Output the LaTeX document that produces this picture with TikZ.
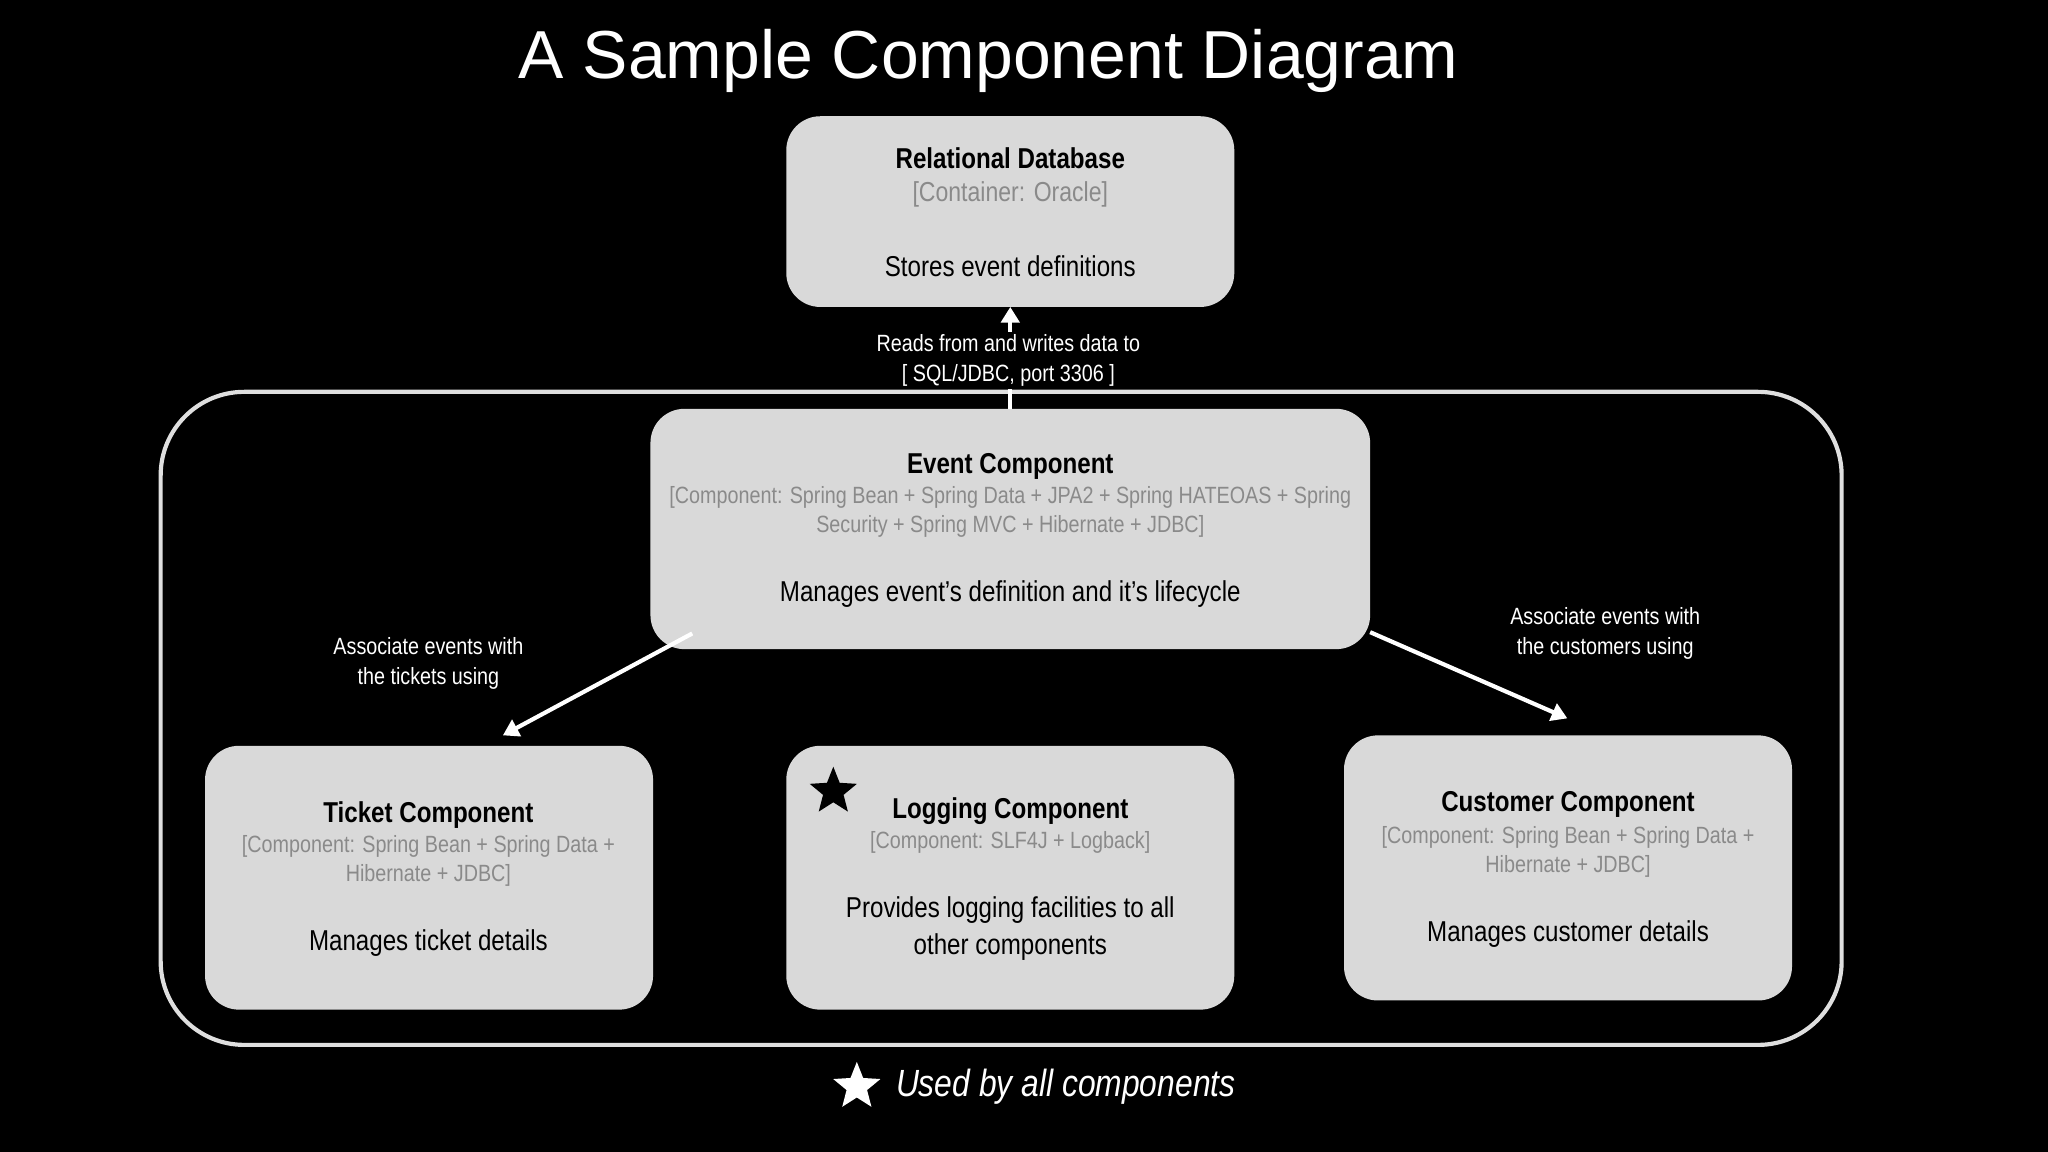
\documentclass[tikz,border=0pt]{standalone}
\usepackage{fontspec}
\setmainfont{Liberation Sans}
\newfontfamily\narrow[FakeStretch=0.84]{Liberation Sans}
\usetikzlibrary{shapes.geometric,arrows.meta}
\definecolor{boxgray}{HTML}{D9D9D9}
\definecolor{subgray}{HTML}{8A8A8A}
\begin{document}
\begin{tikzpicture}[x=0.5pt,y=-0.5pt,
  comp/.style={draw=none,fill=boxgray,rounded corners=13pt},
  ttl/.style={font=\narrow\fontsize{11}{13}\selectfont\bfseries,text=black},
  sub/.style={font=\narrow\fontsize{9}{11}\selectfont,text=subgray,align=center},
  dsc/.style={font=\narrow\fontsize{11}{14}\selectfont,text=black,align=center},
  lbl/.style={font=\narrow\fontsize{9}{11.5}\selectfont,text=white,align=center,fill=black,inner sep=1pt},
  arr/.style={draw=white,line width=1.6pt,-{Triangle[length=6pt,width=7pt]}}]
\fill[black] (0,0) rectangle (1568,882);
\useasboundingbox (0,0) rectangle (1568,882);
\node[font=\fontsize{26}{30}\selectfont,text=white] (title) at (757,47) {A Sample Component Diagram};
\draw[draw=boxgray!85,line width=1.6pt,rounded corners=32pt] (123,300) rectangle (1410,800);
% boxes
\draw[comp] (602,89) rectangle (945,235); \coordinate (db) at (773.5,162);
\coordinate (dbS) at (773.5,235);
\node[ttl] at (773.5,121) {Relational Database};
\node[sub,font=\narrow\fontsize{10.5}{12}\selectfont] at (773.5,149) {[Container: Oracle]};
\node[dsc] at (773.5,204) {Stores event definitions};

\draw[comp] (498,313) rectangle (1049,497);
\coordinate (evN) at (773.5,313);
\coordinate (evL) at (530,485);
\coordinate (evR) at (1049,484);
\node[ttl] at (773.5,357) {Event Component};
\node[sub] at (773.5,392) {[Component: Spring Bean + Spring Data + JPA2 + Spring HATEOAS + Spring\\Security + Spring MVC + Hibernate + JDBC]};
\node[dsc] at (773.5,455) {Manages event’s definition and it’s lifecycle};

\draw[comp] (157,571) rectangle (500,773);
\coordinate (tkN) at (385,563);
\node[ttl] at (328,624) {Ticket Component};
\node[sub] at (328,659) {[Component: Spring Bean + Spring Data +\\Hibernate + JDBC]};
\node[dsc] at (328,722) {Manages ticket details};

\draw[comp] (602,571) rectangle (945,773);
\node[ttl] at (773.5,621) {Logging Component};
\node[sub] at (773.5,645) {[Component: SLF4J + Logback]};
\node[dsc] at (773.5,711) {Provides logging facilities to all\\other components};
\node[star,star points=5,star point ratio=2.3,fill=black,minimum size=19pt,inner sep=0pt] (st1) at (638,606) {};

\draw[comp] (1029,563) rectangle (1372,766);
\coordinate (cuN) at (1200,550);
\node[ttl] at (1200.5,616) {Customer Component};
\node[sub] at (1200.5,652) {[Component: Spring Bean + Spring Data +\\Hibernate + JDBC]};
\node[dsc] at (1200.5,715) {Manages customer details};

% connectors
\draw[arr] (evN) -- (dbS);
\node[lbl] at (772,276) {Reads from and writes data to\\{[} SQL/JDBC, port 3306 {]}};
\draw[arr] (evL) -- (tkN);
\node[lbl] at (328,508) {Associate events with\\the tickets using};
\draw[arr] (evR) -- (cuN);
\node[lbl] at (1229,485) {Associate events with\\the customers using};

% legend
\node[star,star points=5,star point ratio=2.3,fill=white,minimum size=19pt,inner sep=0pt] (st2) at (656,832) {};
\node[font=\narrow\fontsize{14.5}{16}\selectfont\itshape,text=white] (leg) at (816,832) {Used by all components};
\end{tikzpicture}
\end{document}
